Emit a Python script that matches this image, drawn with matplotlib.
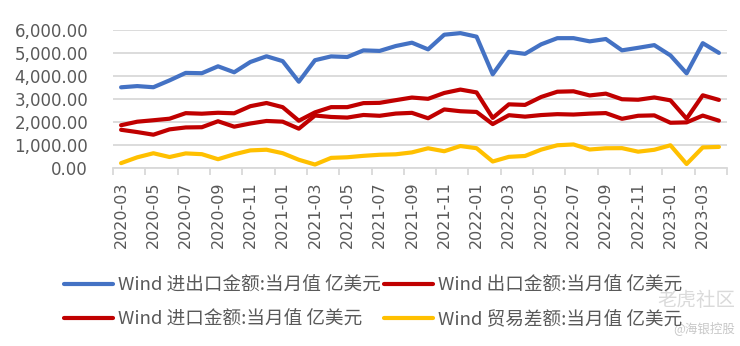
import numpy as np
import matplotlib
matplotlib.use("Agg")
import matplotlib.pyplot as plt
from matplotlib.ticker import FuncFormatter, FixedLocator

plt.rcParams['font.family'] = ['DejaVu Sans', 'Noto Sans CJK SC']

# monthly data, 2020-03 .. 2023-04 (亿美元)
months = ['2020-03', '2020-04', '2020-05', '2020-06', '2020-07', '2020-08', '2020-09', '2020-10',
          '2020-11', '2020-12', '2021-01', '2021-02', '2021-03', '2021-04', '2021-05', '2021-06',
          '2021-07', '2021-08', '2021-09', '2021-10', '2021-11', '2021-12', '2022-01', '2022-02',
          '2022-03', '2022-04', '2022-05', '2022-06', '2022-07', '2022-08', '2022-09', '2022-10',
          '2022-11', '2022-12', '2023-01', '2023-02', '2023-03', '2023-04']
total = [3503, 3556, 3506, 3805, 4131, 4117, 4418, 4158, 4606, 4855, 4644, 3746, 4684, 4850,
         4823, 5112, 5088, 5302, 5447, 5156, 5795, 5864, 5710, 4070, 5049, 4961, 5376, 5644,
         5645, 5505, 5607, 5114, 5224, 5341, 4893, 4111, 5426, 5003]
exports = [1851, 2004, 2068, 2135, 2377, 2353, 2394, 2371, 2680, 2819, 2638, 2046, 2411, 2639,
           2639, 2814, 2826, 2943, 3057, 3001, 3256, 3404, 3280, 2170, 2761, 2736, 3082, 3311,
           3329, 3149, 3227, 2983, 2961, 3061, 2935, 2136, 3155, 2954]
imports = [1652, 1552, 1438, 1670, 1754, 1764, 2024, 1787, 1926, 2036, 2006, 1700, 2273, 2211,
           2184, 2297, 2262, 2359, 2390, 2155, 2539, 2460, 2430, 1900, 2288, 2225, 2294, 2333,
           2316, 2356, 2380, 2131, 2263, 2280, 1958, 1975, 2271, 2049]
balance = [199, 452, 630, 465, 623, 589, 370, 584, 754, 783, 632, 346, 138, 428, 455, 517,
           564, 584, 667, 846, 717, 944, 850, 270, 473, 511, 788, 978, 1013, 793, 847, 852,
           698, 781, 977, 161, 884, 905]

labels = ['Wind 进出口金额:当月值 亿美元', 'Wind 出口金额:当月值 亿美元',
          'Wind 进口金额:当月值 亿美元', 'Wind 贸易差额:当月值 亿美元']

fig = plt.figure(figsize=(7.4, 3.46), dpi=100)
ax = fig.add_axes([113 / 740, 1 - 167.7 / 346, 614 / 740, 137.7 / 346])

x = np.arange(len(months))
lw = 3.0
l1, = ax.plot(x, total, color='#4472C4', lw=lw, solid_capstyle='round')
l2, = ax.plot(x, exports, color='#C00000', lw=lw, solid_capstyle='round')
l3, = ax.plot(x, imports, color='#C00000', lw=lw, solid_capstyle='round')
l4, = ax.plot(x, balance, color='#FFC000', lw=lw, solid_capstyle='round')

ax.set_xlim(-0.5, len(months) - 0.5)
ax.set_ylim(0, 6000)
ax.set_yticks(np.arange(0, 6001, 1000))
ax.yaxis.set_major_formatter(FuncFormatter(lambda v, p: '{:,.2f}'.format(v)))
ax.grid(axis='y', color='#D9D9D9', lw=1.3)
ax.set_axisbelow(True)

ax.set_xticks(x[::2])
ax.set_xticklabels(months[::2], rotation=90)
ax.xaxis.set_minor_locator(FixedLocator(np.arange(-0.5, len(months), 2)))
ax.tick_params(axis='x', which='major', length=0, pad=10, labelsize=11.5, labelcolor='#595959')
ax.tick_params(axis='x', which='minor', length=5, width=1.3, color='#D9D9D9')
ax.tick_params(axis='y', length=0, pad=18, labelsize=12, labelcolor='#595959')

for s in ['top', 'right', 'left']:
    ax.spines[s].set_visible(False)
ax.spines['bottom'].set_color('#D9D9D9')
ax.spines['bottom'].set_linewidth(1.3)

# legend fills column-wise, so order handles to get row-wise layout
fig.legend([l1, l3, l2, l4], [labels[0], labels[2], labels[1], labels[3]], ncol=2,
           loc='upper left', bbox_to_anchor=(64 / 740, 1 - 277 / 346), frameon=False,
           prop={'family': ['Noto Sans CJK SC', 'DejaVu Sans'], 'size': 13.4},
           labelcolor='#595959', handlelength=2.65, handletextpad=0.25,
           columnspacing=0.15, labelspacing=0.85, borderpad=0, borderaxespad=0)

# watermark
fig.text(735 / 740, 1 - 300 / 346, '老虎社区', ha='right', va='center', color='#DADADA',
         fontsize=14, family=['Noto Sans CJK SC'])
fig.text(735 / 740, 1 - 328 / 346, '@海银控股', ha='right', va='center', color='#C8C8C8',
         fontsize=9, family=['Noto Sans CJK SC'])

fig.savefig('out.png', dpi=100)
